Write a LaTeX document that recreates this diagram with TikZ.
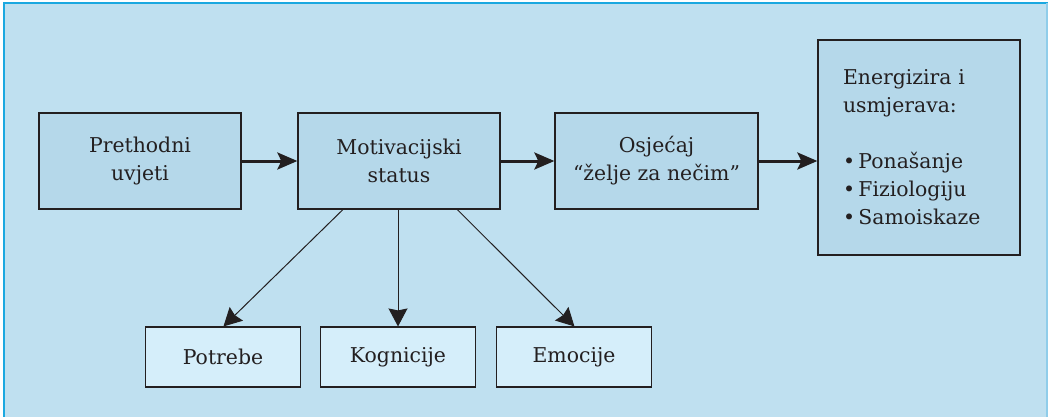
\documentclass[tikz,border=0pt]{standalone}
\usepackage{fontspec}
\setmainfont{DejaVu Serif}
\usetikzlibrary{arrows.meta}
\definecolor{bgblue}{HTML}{BFE0F0}
\definecolor{topfill}{HTML}{B5D8EA}
\definecolor{botfill}{HTML}{D5EEFA}
\definecolor{frameblue}{HTML}{1AA8E0}
\definecolor{rightblue}{HTML}{8FCDEA}
\definecolor{ink}{HTML}{231F20}
\tikzset{
  topbox/.style={draw=ink, line width=1.3pt, fill=topfill, minimum width=202pt, minimum height=96pt, align=center, inner sep=0pt, text=ink, font=\fontsize{20.4}{28}\selectfont},
  botbox/.style={draw=ink, line width=1.1pt, fill=botfill, minimum width=155pt, minimum height=60pt, align=center, inner sep=0pt, text=ink, font=\fontsize{20.4}{28}\selectfont},
  bigarrow/.style={draw=ink, line width=3pt, -{Stealth[length=20pt,width=17pt,inset=4pt]}},
  thinarrow/.style={draw=ink, line width=1pt, -{Stealth[length=18pt,width=19pt,inset=2pt]}}
}
\begin{document}
\begin{tikzpicture}[x=1pt,y=-1pt]
\useasboundingbox (0,0) rectangle (1048,417);
\fill[bgblue] (4,3) rectangle (1048,417);
\draw[frameblue, line width=2pt] (4,417) -- (4,3) -- (1048,3);
\draw[rightblue, line width=1.5pt] (1047,3) -- (1047,417);

\node[topbox] (pre) at (140,161) {Prethodni\\uvjeti};
\node[topbox] (mot) at (399,161) {Motivacijski\\status};
\node[topbox, minimum width=203pt] (osj) at (656.5,161) {Osjećaj\\“želje za nečim”};
\node[draw=ink, line width=1.3pt, fill=topfill, minimum width=202pt, minimum height=215pt,
      text width=152pt, inner xsep=25pt, inner ysep=0pt, align=left, text=ink,
      font=\fontsize{20.4}{28}\selectfont] (ene) at (919,147.5)
  {Energizira i\\usmjerava:\\[28pt]•\,Ponašanje\\•\,Fiziologiju\\•\,Samoiskaze};

\node[botbox] (pot) at (223,357) {Potrebe};
\node[botbox] (kog) at (398,357) {Kognicije};
\node[botbox] (emo) at (574,357) {Emocije};

\draw[bigarrow] (pre.east) -- (mot.west);
\draw[bigarrow] (mot.east) -- (osj.west);
\draw[bigarrow] (osj.east) -- (ene.west |- osj.east);

\draw[thinarrow] ([xshift=45.5pt]mot.south west) -- ([xshift=78.5pt]pot.north west);
\draw[thinarrow] (kog.north |- mot.south) -- (kog.north);
\draw[thinarrow] ([xshift=160pt]mot.south west) -- ([xshift=78.5pt]emo.north west);
\end{tikzpicture}
\end{document}
